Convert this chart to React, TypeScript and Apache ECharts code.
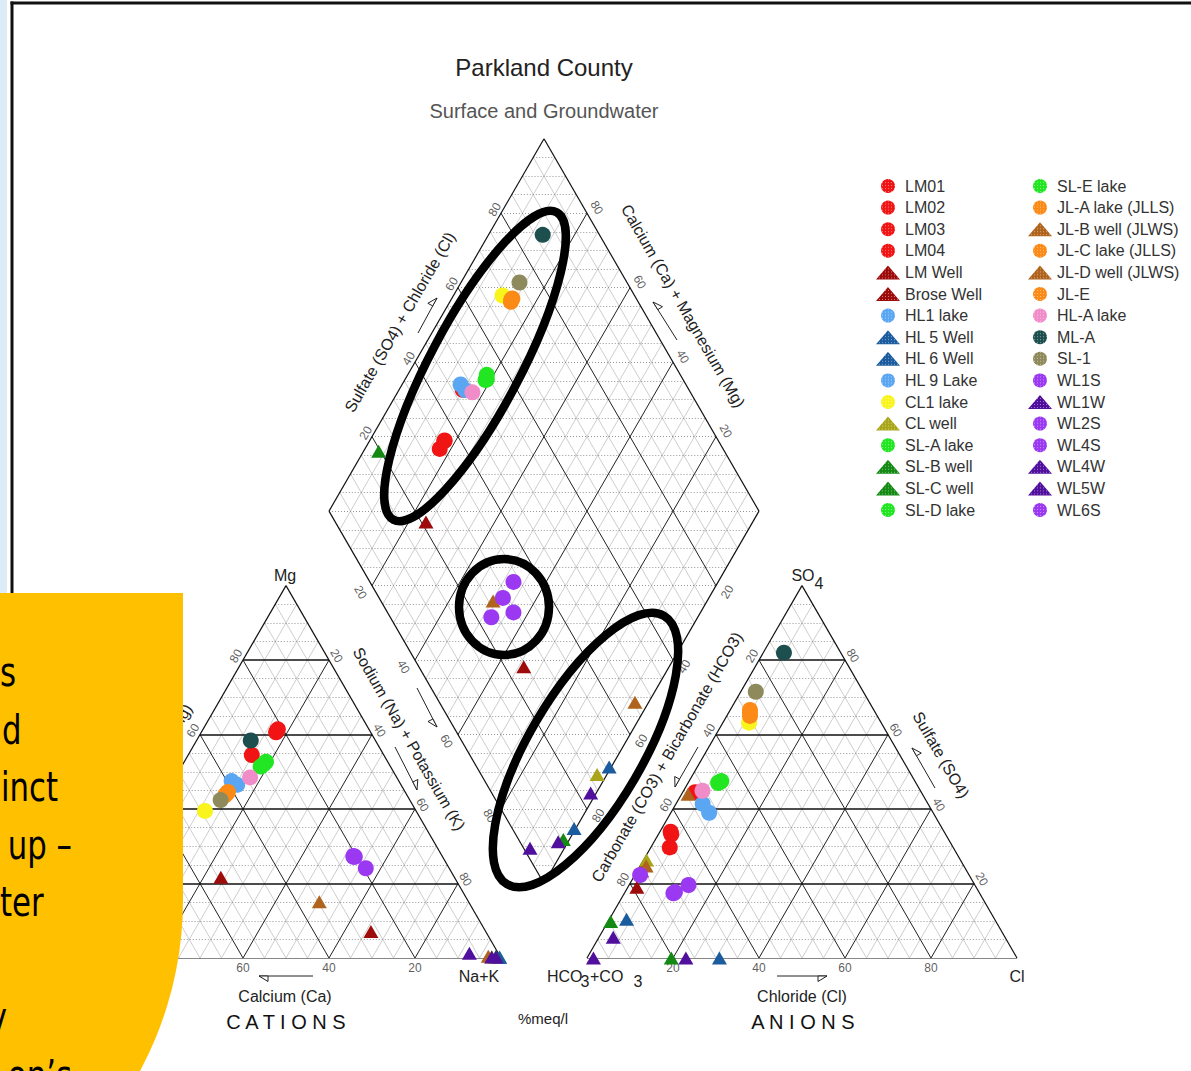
import React, { useEffect, useRef } from "react";
import * as echarts from "echarts";

const SIN60 = Math.sqrt(3) / 2;
const FONT = "Liberation Sans";

// Samples in plotting / legend order
const sampleNames = [
  "LM01", "LM02", "LM03", "LM04", "LM Well", "Brose Well", "HL1 lake", "HL 5 Well",
  "HL 6 Well", "HL 9 Lake", "CL1 lake", "CL well", "SL-A lake", "SL-B well", "SL-C well", "SL-D lake",
  "SL-E lake", "JL-A lake (JLLS)", "JL-B well (JLWS)", "JL-C lake (JLLS)", "JL-D well (JLWS)", "JL-E", "HL-A lake", "ML-A",
  "SL-1", "WL1S", "WL1W", "WL2S", "WL4S", "WL4W", "WL5W", "WL6S",
];
const sampleSymbols = [
  "circle", "circle", "circle", "circle", "triangle", "triangle", "circle", "triangle",
  "triangle", "circle", "circle", "triangle", "circle", "triangle", "triangle", "circle",
  "circle", "circle", "triangle", "circle", "triangle", "circle", "circle", "circle",
  "circle", "circle", "triangle", "circle", "circle", "triangle", "triangle", "circle",
];
const sampleColors = [
  "#f01414", "#f01414", "#f01414", "#f01414", "#9e0b0b", "#9e0b0b", "#5aa6f2", "#1a5c9e",
  "#1a5c9e", "#5aa6f2", "#f8f41c", "#aaa619", "#22e622", "#148a14", "#148a14", "#22e622",
  "#22e622", "#fb8a17", "#b0631c", "#fb8a17", "#b0631c", "#fb8a17", "#f08cc8", "#1e4f4f",
  "#8e8a5c", "#9a38f2", "#500f9c", "#9a38f2", "#9a38f2", "#500f9c", "#500f9c", "#9a38f2",
];

// Cation shares, % meq/l (sodium + potassium is the remainder)
const calciumPct = [
  21.6, 22.0, 30.7, 21.2, 54.3, 26.7, 38.9, 0.3,
  0.2, 38.1, 49.1, 2.0, 28.3, 72.0, 1.0, 30.2,
  29.2, 41.7, 34.7, 41.2, 2.7, 42.3, 34.1, 29.0,
  44.0, 20.4, 6.7, 20.7, 19.4, 1.0, 2.0, 20.6,
];
const magnesiumPct = [
  61.0, 60.6, 54.5, 61.4, 21.7, 7.1, 47.5, 0.2,
  0.2, 46.5, 39.5, 0.3, 52.7, 24.5, 0.4, 51.4,
  52.0, 44.2, 15.1, 44.6, 0.5, 43.7, 48.5, 58.4,
  42.4, 27.2, 1.3, 27.2, 24.1, 0.3, 0.3, 27.4,
];
// Anion shares, % meq/l (carbonate + bicarbonate is the remainder)
const chloridePct = [
  2.5, 4.4, 2.9, 3.0, 2.1, 1.0, 6.2, 30.8,
  4.0, 8.9, 6.1, 0.7, 7.2, 19.6, 0.6, 7.5,
  7.0, 4.6, 1.4, 5.4, 1.5, 5.0, 4.4, 4.8,
  3.5, 13.8, 1.5, 11.4, 11.6, 23.0, 3.3, 1.2,
];
const sulfatePct = [
  33.9, 29.7, 44.5, 33.2, 19.0, 23.4, 41.4, 0.0,
  10.4, 39.0, 63.2, 26.3, 47.2, 0.0, 9.8, 47.5,
  47.0, 66.6, 24.7, 65.0, 44.0, 65.8, 44.9, 82.0,
  71.5, 19.6, 0.0, 17.4, 17.7, 0.0, 5.6, 22.3,
];

const tickValues = [20, 40, 60, 80];

// Plot space: each ternary side spans 100 units, triangles separated by 20 units
function cationXY(ca: number, mg: number) {
  const na = 100 - ca - mg;
  return [na + mg / 2, mg * SIN60];
}
function anionXY(cl: number, so4: number) {
  return [120 + cl + so4 / 2, so4 * SIN60];
}
function diamondXY(ca: number, mg: number, cl: number, so4: number) {
  const na = 100 - ca - mg;
  const s = cl + so4;
  return [60 + (na + s) / 2, SIN60 * (120 + s - na)];
}

type Seg = number[][];

function buildGrid() {
  const outline: Seg[] = [];
  const majorH: Seg[] = [];
  const majorD: Seg[] = [];
  const minorH: Seg[] = [];
  const minorD: Seg[] = [];
  for (const ox of [0, 120]) {
    outline.push([[ox, 0], [ox + 100, 0]], [[ox + 100, 0], [ox + 50, 100 * SIN60]], [[ox + 50, 100 * SIN60], [ox, 0]]);
    for (let k = 5; k < 100; k += 5) {
      const major = k % 20 === 0;
      const h = [[ox + k / 2, k * SIN60], [ox + 100 - k / 2, k * SIN60]];
      const d1 = [[ox + k, 0], [ox + 50 + k / 2, (100 - k) * SIN60]];
      const d2 = [[ox + k, 0], [ox + k / 2, k * SIN60]];
      (major ? majorH : minorH).push(h);
      (major ? majorD : minorD).push(d1, d2);
    }
  }
  const D0 = [110, 20 * SIN60], L = [60, 120 * SIN60], R = [160, 120 * SIN60], T = [110, 220 * SIN60];
  outline.push([D0, L], [L, T], [T, R], [R, D0]);
  for (let k = 5; k < 100; k += 5) {
    const major = k % 20 === 0;
    const a = [[60 + k / 2, (120 + k) * SIN60], [110 + k / 2, (20 + k) * SIN60]];
    const b = [[110 - k / 2, (20 + k) * SIN60], [160 - k / 2, (120 + k) * SIN60]];
    (major ? majorD : minorD).push(a, b);
  }
  for (let j = 1; j < 40; j++) {
    const y = (20 + 5 * j) * SIN60;
    const hw = j <= 20 ? 2.5 * j : 2.5 * (40 - j);
    minorH.push([[110 - hw, y], [110 + hw, y]]);
  }
  return { outline, majorH, majorD, minorH, minorD };
}

function tickLabelData() {
  const out: any[] = [];
  const push = (p: number[], n: number[], d: number, k: number, rot: number) => {
    out.push({ value: [p[0] + n[0] * d, p[1] + n[1] * d, String(k)], label: { rotate: rot } });
  };
  for (const k of tickValues) {
    push([k / 2, k * SIN60], [-SIN60, 0.5], 1.9, k, 60); // Mg
    push([50 + k / 2, (100 - k) * SIN60], [SIN60, 0.5], 2.0, k, -60); // Na+K
    push([100 - k, 0], [0, -1], 2.4, k, 0); // Ca
    push([120 + k, 0], [0, -1], 2.4, k, 0); // Cl
    push([120 + (100 - k) / 2, (100 - k) * SIN60], [-SIN60, 0.5], 1.9, k, 60); // CO3+HCO3
    push([220 - k / 2, k * SIN60], [SIN60, 0.5], 2.1, k, -60); // SO4
    push([60 + k / 2, (120 + k) * SIN60], [-SIN60, 0.5], 1.7, k, 60); // SO4+Cl
    push([160 - k / 2, (120 + k) * SIN60], [SIN60, 0.5], 2.6, k, -60); // Ca+Mg
    push([60 + k / 2, (120 - k) * SIN60], [-SIN60, -0.5], 3.1, k, -60); // Na+K (diamond)
    push([160 - k / 2, (120 - k) * SIN60], [SIN60, -0.5], 3.0, k, 60); // CO3+HCO3 (diamond)
  }
  return out;
}

function text(x: number, y: number, str: string, size: number, opts: any = {}) {
  return {
    type: "text",
    x,
    y,
    rotation: ((opts.rot || 0) * Math.PI) / 180,
    scaleX: opts.scaleX || 1,
    z: opts.z ?? 60,
    silent: true,
    style: {
      text: str,
      fontSize: size,
      fontFamily: opts.family || FONT,
      fontWeight: opts.weight || "normal",
      fill: opts.color || "#222",
      align: opts.align || "center",
      textAlign: opts.align || "center",
      verticalAlign: "middle",
      textVerticalAlign: "middle",
    },
  };
}

function arrow(x0: number, y0: number, x1: number, y1: number, side: number) {
  const dx = x1 - x0, dy = y1 - y0;
  const len = Math.hypot(dx, dy);
  const ux = dx / len, uy = dy / len;
  const nx = -uy * side, ny = ux * side;
  const bx = x1 - 9 * ux, by = y1 - 9 * uy;
  return [
    { type: "line", z: 60, silent: true, shape: { x1: x0, y1: y0, x2: x1, y2: y1 }, style: { stroke: "#222", lineWidth: 1 } },
    {
      type: "polygon", z: 60, silent: true,
      shape: { points: [[x1, y1], [bx, by], [bx + 5.5 * nx, by + 5.5 * ny]] },
      style: { fill: "#fff", stroke: "#222", lineWidth: 1 },
    },
  ];
}

function ring(cx: number, cy: number, rx: number, ry: number, deg: number) {
  return {
    type: "ellipse", x: cx, y: cy, rotation: (deg * Math.PI) / 180, z: 90, silent: true,
    shape: { cx: 0, cy: 0, rx, ry },
    style: { fill: "none", stroke: "#000", lineWidth: 8.5 },
  };
}

// Side note panel lines: text, anchor x, alignment, row
const sideNoteLines = ["s", "d", "inct", "up \u2013", "ter", "y", "on\u2019s"];
const sideNoteX = [0, 2, 1, 72, 0, 7, 72];
const sideNoteAlign = ["left", "left", "left", "right", "left", "right", "right"];
const sideNoteRow = [0, 1, 2, 3, 4, 6, 7];

function buildOption() {
  const grid = buildGrid();
  const lineSeries = (data: Seg[], color: string, width: number, type: any, z: number) => ({
    type: "lines",
    coordinateSystem: "cartesian2d",
    silent: true,
    z,
    lineStyle: { color, width, type, opacity: 1, curveness: 0 },
    data: data.map((c) => ({ coords: c })),
  });

  const pointSeries = sampleNames.map((name, i) => {
    const ca = calciumPct[i], mg = magnesiumPct[i], cl = chloridePct[i], so4 = sulfatePct[i];
    const tri = sampleSymbols[i] === "triangle";
    return {
      type: "scatter",
      name,
      symbol: sampleSymbols[i],
      symbolSize: tri ? [15, 13] : 16,
      clip: false,
      z: 10,
      itemStyle: {
        color: sampleColors[i],
        opacity: 1,
        decal: {
          symbol: "rect",
          symbolSize: 1,
          dashArrayX: [1, 2],
          dashArrayY: [1, 2],
          color: "rgba(255,255,255,0.45)",
        },
      },
      emphasis: { disabled: true },
      data: [cationXY(ca, mg), anionXY(cl, so4), diamondXY(ca, mg, cl, so4)],
    };
  });

  const legendBase = {
    orient: "vertical",
    top: 178,
    itemWidth: 24,
    itemHeight: 14,
    itemGap: 5.6,
    padding: 0,
    selectedMode: false,
    textStyle: { fontSize: 16, color: "#333", lineHeight: 14, fontFamily: FONT },
  };

  const graphics: any[] = [
    // window frame
    { type: "rect", z: 1, silent: true, shape: { x: 0, y: 0, width: 7, height: 1071 }, style: { fill: "#dcebf6" } },
    { type: "rect", z: 1, silent: true, shape: { x: 10.5, y: 1.5, width: 3, height: 1070 }, style: { fill: "#111" } },
    { type: "rect", z: 1, silent: true, shape: { x: 10.5, y: 1.5, width: 1181, height: 3 }, style: { fill: "#111" } },
    // titles
    text(544, 67, "Parkland County", 24, { color: "#222" }),
    text(544, 111, "Surface and Groundwater", 20, { color: "#555" }),
    // vertex and axis names
    text(285, 575, "Mg", 16),
    text(803, 575, "SO", 16, { align: "center" }),
    text(819, 583, "4", 16),
    text(479, 976, "Na+K", 16),
    text(547, 976, "HCO", 16, { align: "left" }),
    text(585, 981, "3", 16),
    text(590, 976, "+CO", 16, { align: "left" }),
    text(638, 981, "3", 16),
    text(1017, 976, "Cl", 16),
    text(285, 996, "Calcium (Ca)", 16),
    text(802, 996, "Chloride (Cl)", 16),
    text(543, 1018, "%meq/l", 15),
    text(286, 1022, "C A T I O N S", 20, { color: "#111" }),
    text(803, 1022, "A N I O N S", 20, { color: "#111" }),
    text(400, 322, "Sulfate (SO4) + Chloride (Cl)", 16, { rot: 60 }),
    text(683, 306, "Calcium (Ca) + Magnesium (Mg)", 16, { rot: -60 }),
    text(409, 739, "Sodium (Na) + Potassium (K)", 16, { rot: -60 }),
    text(667, 757, "Carbonate (CO3) + Bicarbonate (HCO3)", 16, { rot: 60 }),
    text(941, 755, "Sulfate (SO4)", 16, { rot: -60 }),
    text(158, 757, "Magnesium (Mg)", 16, { rot: 60 }),
    // direction arrows
    ...arrow(313, 976, 259, 976, -1),
    ...arrow(777, 976, 827, 976, 1),
    ...arrow(418, 333, 437, 298, -1),
    ...arrow(677, 340, 653, 302, 1),
    ...arrow(417, 688, 437, 727, 1),
    ...arrow(395, 747, 417, 790, -1),
    ...arrow(698, 747, 675, 787, 1),
    ...arrow(935, 788, 912, 748, 1),
    // hand-drawn group outlines
    ring(475, 366, 174, 45, 62),
    ring(504, 607, 45, 48, 0),
    ring(585.5, 750, 155.5, 57, 59.7),
    // side note panel
    {
      type: "rect", z: 100, silent: true,
      shape: { x: -200, y: 593, width: 383, height: 668, r: [0, 0, 361, 0] },
      style: { fill: "#ffc000" },
    },
  ];
  sideNoteLines.forEach((s, i) => {
    graphics.push(
      text(sideNoteX[i], 672 + 57.5 * sideNoteRow[i], s, 40, {
        align: sideNoteAlign[i], color: "#000", family: "DejaVu Sans", scaleX: 0.77, z: 101,
      })
    );
  });

  return {
    animation: false,
    backgroundColor: "#fff",
    textStyle: { fontFamily: FONT },
    grid: {
      left: 71,
      top: 958 - 220 * SIN60 * 4.3,
      width: 220 * 4.3,
      height: 220 * SIN60 * 4.3,
      outerBoundsMode: "none",
      containLabel: false,
    },
    xAxis: { type: "value", min: 0, max: 220, show: false, splitLine: { show: false } },
    yAxis: { type: "value", min: 0, max: 220 * SIN60, show: false, splitLine: { show: false } },
    legend: [
      { ...legendBase, left: 876, data: sampleNames.slice(0, 16) },
      { ...legendBase, left: 1028, data: sampleNames.slice(16) },
    ],
    series: [
      lineSeries(grid.minorD, "#b8b8b8", 0.7, "solid", 1),
      lineSeries(grid.minorH, "#8a8a8a", 0.9, [1, 2], 1),
      lineSeries(grid.majorD, "#222", 1, "solid", 2),
      lineSeries(grid.majorH, "#111", 1.5, "solid", 2),
      lineSeries(grid.outline, "#111", 1.2, "solid", 3),
      {
        type: "scatter",
        name: "ticks",
        symbolSize: 0,
        silent: true,
        clip: false,
        z: 4,
        label: {
          show: true,
          position: "inside",
          fontSize: 12,
          color: "#333",
          fontFamily: FONT,
          formatter: (p: any) => p.value[2],
        },
        data: tickLabelData(),
      },
      ...pointSeries,
    ],
    graphic: { elements: graphics },
  };
}

export default function App() {
  const ref = useRef<HTMLDivElement>(null);
  useEffect(() => {
    const chart = echarts.init(ref.current!, null, { renderer: "svg" });
    chart.setOption(buildOption() as any);
    return () => chart.dispose();
  }, []);
  return (
    <div
      ref={ref}
      style={{ position: "fixed", left: 0, top: 0, width: 1191, height: 1071, background: "#fff" }}
    />
  );
}
